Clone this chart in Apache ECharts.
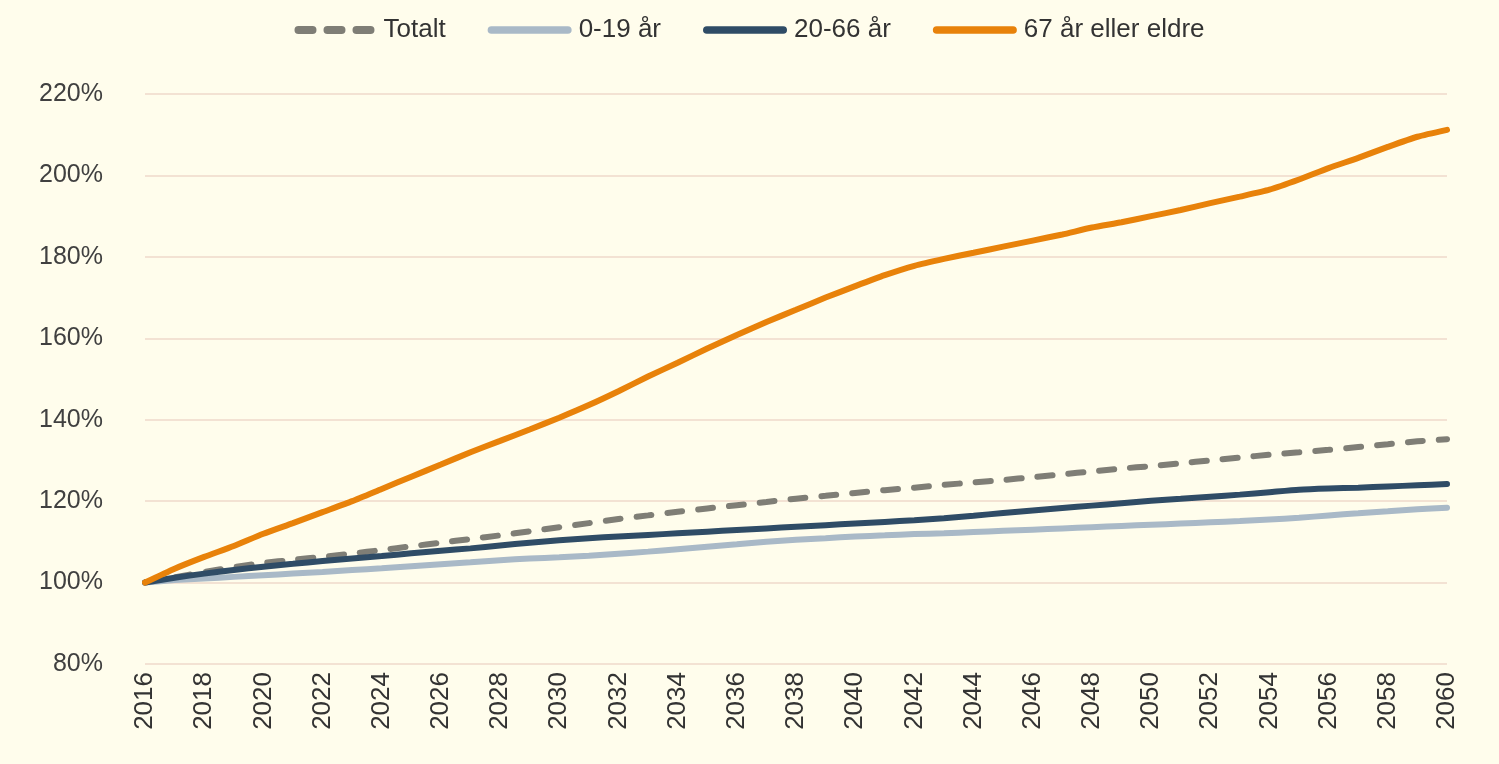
<!DOCTYPE html>
<html>
<head>
<meta charset="utf-8">
<script src="https://cdn.jsdelivr.net/npm/echarts@6/dist/echarts.min.js"></script>
<style>
html,body{margin:0;padding:0;background:#FFFDEC;}
#c{width:1499px;height:764px;}
</style>
</head>
<body>
<div id="c"></div>
<script>
const years = [];
for (let y = 2016; y <= 2060; y++) years.push(String(y));

const totalt = [100,101.3,102.6,103.8,104.8,105.6,106.3,107.1,108,108.9,109.8,110.7,111.6,112.6,113.6,114.6,115.6,116.5,117.4,118.2,119,119.8,120.6,121.3,122,122.7,123.3,124,124.6,125.2,125.9,126.6,127.3,128,128.6,129.3,130,130.7,131.4,132,132.6,133.3,134,134.7,135.2];
const age0_19 = [100,100.6,101,101.4,101.8,102.2,102.6,103.1,103.5,104,104.5,105,105.5,105.9,106.2,106.6,107.1,107.6,108.2,108.8,109.4,110,110.5,110.9,111.3,111.6,111.9,112.1,112.4,112.7,113,113.3,113.6,113.9,114.2,114.5,114.8,115.1,115.5,115.9,116.5,117,117.5,118,118.4];
const age20_66 = [100,101.2,102.2,103.1,103.9,104.6,105.3,105.9,106.5,107.2,107.8,108.4,109.1,109.8,110.4,110.9,111.3,111.7,112.1,112.5,112.9,113.3,113.7,114.1,114.5,114.9,115.3,115.8,116.4,117.1,117.7,118.3,118.9,119.5,120.1,120.6,121.1,121.6,122.2,122.8,123.1,123.3,123.6,123.9,124.2];
const age67 = [100,103.4,106.3,109,112,114.6,117.3,120,123,126,129,132,134.8,137.6,140.5,143.6,147,150.6,154,157.5,160.8,164,167,170,172.8,175.5,177.8,179.5,181,182.5,184,185.5,187.2,188.5,190,191.5,193.2,194.8,196.5,199,201.8,204.3,207,209.5,211.2];

const seriesNames = ['Totalt','0-19 år','20-66 år','67 år eller eldre'];
const yTicks = [80,100,120,140,160,180,200,220];

const chart = echarts.init(document.getElementById('c'));
const font = 'Liberation Sans, Arial, sans-serif';
function mk(name, data, color, dashed) {
  return {
    name: name, type: 'line', data: data, symbol: 'none', smooth: 0.2,
    lineStyle: {color: color, width: 6, type: dashed ? [15, 16] : 'solid', cap: 'round'},
    itemStyle: {color: color}
  };
}
const dashIcon = 'path://M4,0h14a4,4 0 0 1 0,8h-14a4,4 0 0 1 0,-8z M33,0h14a4,4 0 0 1 0,8h-14a4,4 0 0 1 0,-8z M62,0h14a4,4 0 0 1 0,8h-14a4,4 0 0 1 0,-8z';
const lineIcon = 'path://M4,0h80a4,4 0 0 1 0,8h-80a4,4 0 0 1 0,-8z';
chart.setOption({
  backgroundColor: '#FFFDEC',
  animation: false,
  legend: {
    top: 12, left: 'center',
    itemWidth: 84, itemHeight: 8, itemGap: 42,
    textStyle: {fontFamily: font, fontSize: 26, color: '#333333', padding: [0,0,0,2]},
    data: [
      {name: seriesNames[0], icon: dashIcon},
      {name: seriesNames[1], icon: lineIcon},
      {name: seriesNames[2], icon: lineIcon},
      {name: seriesNames[3], icon: lineIcon}
    ]
  },
  grid: {left: 145, right: 52, top: 94, bottom: 100, containLabel: false},
  xAxis: {
    type: 'category', data: years, boundaryGap: false,
    axisLine: {show: false}, axisTick: {show: false},
    axisLabel: {interval: 1, rotate: 90, margin: 8, fontFamily: font, fontSize: 26, color: '#333333'},
    splitLine: {show: false}
  },
  yAxis: {
    type: 'value', min: yTicks[0], max: yTicks[yTicks.length - 1], interval: 20,
    axisLine: {show: false}, axisTick: {show: false},
    axisLabel: {margin: 42, fontFamily: font, fontSize: 25, color: '#404040', formatter: v => v + '%'},
    splitLine: {lineStyle: {color: '#EFD8CB', width: 1.5}}
  },
  series: [
    mk(seriesNames[0], totalt, '#7F7E76', true),
    mk(seriesNames[1], age0_19, '#A9B9C7', false),
    mk(seriesNames[2], age20_66, '#2F4C66', false),
    mk(seriesNames[3], age67, '#E8820A', false)
  ]
});
</script>
</body>
</html>
